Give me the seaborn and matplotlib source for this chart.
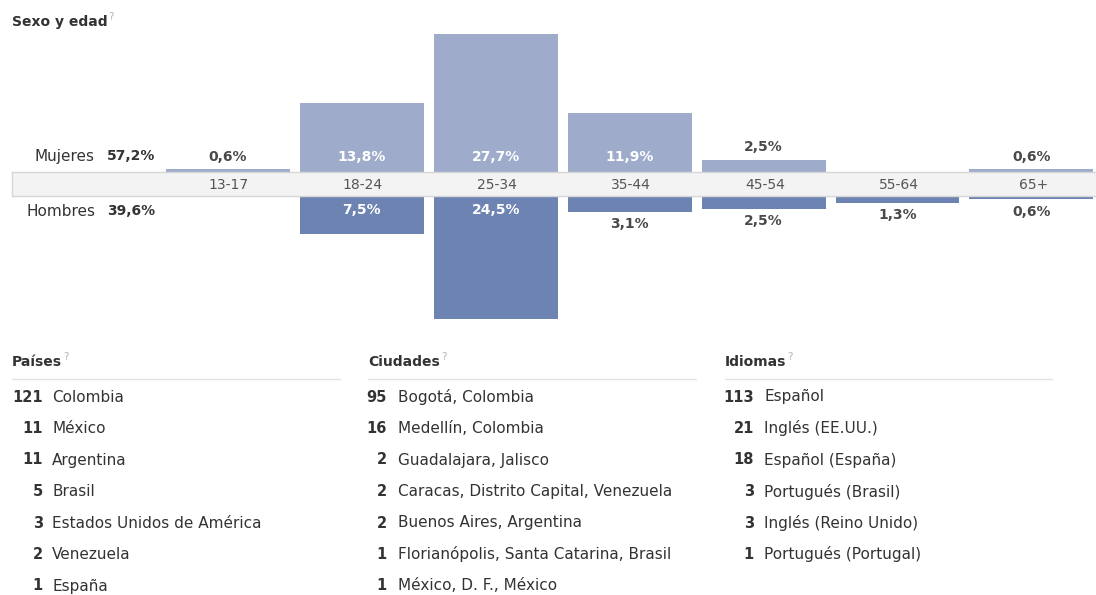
import matplotlib
matplotlib.use("Agg")
import matplotlib.pyplot as plt
import pandas as pd
import seaborn as sns

W, H = 1096, 595

# Sexo y edad
age_groups = ["13-17", "18-24", "25-34", "35-44", "45-54", "55-64", "65+"]
women_pct = [0.6, 13.8, 27.7, 11.9, 2.5, 0.0, 0.6]
men_pct = [0.0, 7.5, 24.5, 3.1, 2.5, 1.3, 0.6]
women_total = "57,2%"
men_total = "39,6%"

# Listas
country_counts = [121, 11, 11, 5, 3, 2, 1]
country_names = ["Colombia", "México", "Argentina", "Brasil",
                 "Estados Unidos de América", "Venezuela", "España"]
city_counts = [95, 16, 2, 2, 2, 1, 1]
city_names = ["Bogotá, Colombia", "Medellín, Colombia", "Guadalajara, Jalisco",
              "Caracas, Distrito Capital, Venezuela", "Buenos Aires, Argentina",
              "Florianópolis, Santa Catarina, Brasil", "México, D. F., México"]
language_counts = [113, 21, 18, 3, 3, 1]
language_names = ["Español", "Inglés (EE.UU.)", "Español (España)",
                  "Portugués (Brasil)", "Inglés (Reino Unido)", "Portugués (Portugal)"]

WOMEN_COLOR = "#9eabca"
MEN_COLOR = "#6d83b2"
TEXT = "#333333"
HINT = "#b4b4b4"

sns.set_theme(style="white")
plt.rcParams["font.family"] = ["DejaVu Sans"]

fig = plt.figure(figsize=(W / 100, H / 100), dpi=100)
fig.patch.set_facecolor("white")


def fx(x):
    return x / W


def fy(y):
    return 1 - y / H


def axes_px(x0, y0, x1, y1):
    return fig.add_axes([fx(x0), fy(y1), (x1 - x0) / W, (y1 - y0) / H])


# horizontal layout of the age columns (pixels)
first_center, col_step = 228, 133.9
x_left = -(first_center - 12) / col_step
x_right = (W - first_center) / col_step
band_top, band_bottom = 172, 196
px_per_pct = 5.0
y_span = 30

df = pd.DataFrame({"edad": age_groups, "mujeres": women_pct, "hombres": men_pct})

# women bars (up)
ax_w = axes_px(12, band_top - y_span * px_per_pct, W, band_top)
sns.barplot(data=df, x="edad", y="mujeres", order=age_groups, color=WOMEN_COLOR,
            saturation=1, width=0.925, linewidth=0, ax=ax_w)
ax_w.set_xlim(x_left, x_right)
ax_w.set_ylim(0, y_span)
ax_w.axis("off")

# men bars (down)
ax_m = axes_px(12, band_bottom, W, band_bottom + y_span * px_per_pct)
sns.barplot(data=df, x="edad", y="hombres", order=age_groups, color=MEN_COLOR,
            saturation=1, width=0.925, linewidth=0, ax=ax_m)
ax_m.set_xlim(x_left, x_right)
ax_m.set_ylim(y_span, 0)
ax_m.axis("off")

for i, (w, m) in enumerate(zip(women_pct, men_pct)):
    if w > 0:
        lab = f"{w:.1f}".replace(".", ",") + "%"
        if w > 5:
            ax_w.text(i, 3.0, lab, ha="center", va="center", fontsize=10,
                      fontweight="bold", color="white")
        else:
            ax_w.text(i, max(w + 2.5, 3.1), lab, ha="center", va="center",
                      fontsize=10, fontweight="bold", color="#4a4a4a")
    if m > 0:
        lab = f"{m:.1f}".replace(".", ",") + "%"
        if m > 5:
            ax_m.text(i, 2.8, lab, ha="center", va="center", fontsize=10,
                      fontweight="bold", color="white")
        else:
            ax_m.text(i, max(m + 2.5, 3.0), lab, ha="center", va="center",
                      fontsize=10, fontweight="bold", color="#4a4a4a")

# gray band with age groups
ax_b = axes_px(12, band_top, W + 2, band_bottom)
ax_b.set_facecolor("#f3f3f3")
ax_b.set_xlim(x_left, x_right)
ax_b.set_ylim(0, 1)
ax_b.set_xticks([])
ax_b.set_yticks([])
for side, sp in ax_b.spines.items():
    sp.set_visible(side != "right")
    sp.set_color("#d6d6d6")
    sp.set_linewidth(1)
for i, g in enumerate(age_groups):
    ax_b.text(i, 0.45, g, ha="center", va="center", fontsize=10, color="#555555")

# left side labels
fig.text(fx(95), fy(156), "Mujeres", ha="right", va="center", fontsize=11, color=TEXT)
fig.text(fx(107), fy(156), women_total, ha="left", va="center", fontsize=10,
         fontweight="bold", color=TEXT)
fig.text(fx(95), fy(211), "Hombres", ha="right", va="center", fontsize=11, color=TEXT)
fig.text(fx(107), fy(211), men_total, ha="left", va="center", fontsize=10,
         fontweight="bold", color=TEXT)

renderer = fig.canvas.get_renderer()


def header(x, y, label):
    t = fig.text(fx(x), fy(y), label, ha="left", va="center", fontsize=10,
                 fontweight="bold", color=TEXT)
    bb = t.get_window_extent(renderer)
    fig.text((bb.x1 + 1) / W, fy(y - 5), "?", ha="left", va="center",
             fontsize=7.5, color=HINT)


header(12, 22, "Sexo y edad")

# bottom lists
columns = [
    (12, 43, 52, 340, "Países", country_counts, country_names),
    (368, 387, 398, 696, "Ciudades", city_counts, city_names),
    (725, 754, 764, 1052, "Idiomas", language_counts, language_names),
]
for hx, num_x, name_x, line_end, title, counts, names in columns:
    header(hx, 362, title)
    fig.add_artist(plt.Line2D([fx(hx), fx(line_end)], [fy(379), fy(379)],
                              color="#e3e3e3", linewidth=1))
    for r, (c, n) in enumerate(zip(counts, names)):
        y = 397 + r * 31.5
        fig.text(fx(num_x), fy(y), str(c), ha="right", va="center", fontsize=10.5,
                 fontweight="bold", color=TEXT)
        fig.text(fx(name_x), fy(y), n, ha="left", va="center", fontsize=11,
                 color=TEXT)

fig.savefig("out.png", dpi=100)
